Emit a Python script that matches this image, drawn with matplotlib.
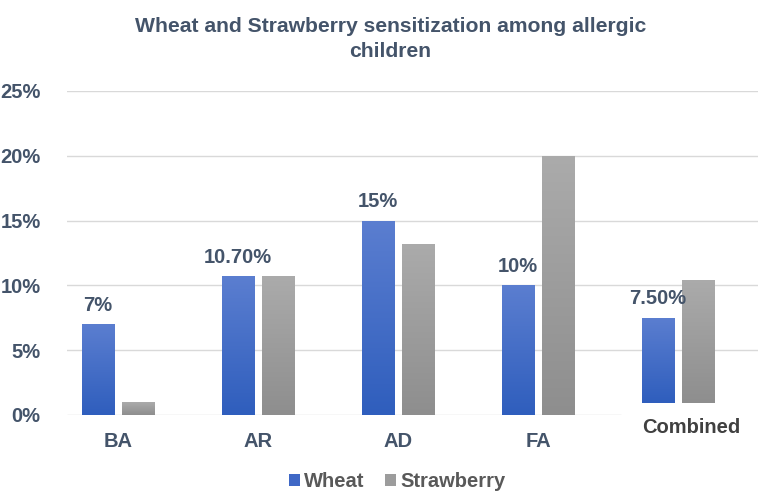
import numpy as np
import matplotlib
matplotlib.use('agg')
import matplotlib.pyplot as plt
from matplotlib.colors import LinearSegmentedColormap

plt.rcParams['font.family'] = ['Liberation Sans', 'DejaVu Sans']
plt.rcParams['font.weight'] = 'bold'

# data
categories = ['BA', 'AR', 'AD', 'FA', 'Combined']
wheat = [7, 10.7, 15, 10, 7.5]
strawberry = [1, 10.7, 13.2, 20, 10.4]
wheat_labels = ['7%', '10.70%', '15%', '10%', '7.50%']
# the "Combined" group floats a little above the baseline in the original
bar_base = [0, 0, 0, 0, 0.9]
yticks = [0, 5, 10, 15, 20, 25]

TEXT = '#44546A'
GRID = '#D9D9D9'
FS = 14.5

fig = plt.figure(figsize=(7.58, 4.92), dpi=100)
ax = fig.add_axes([67 / 758, 1 - 415 / 492, 1 - 67 / 758, (415 - 91) / 492])

x = np.arange(len(categories))
w = 0.23
off = 0.143

blue = LinearSegmentedColormap.from_list('b', ['#2F5EBD', '#5B7ED0'])
grey = LinearSegmentedColormap.from_list('g', ['#8E8E8E', '#ABABAB'])
grad = np.linspace(0, 1, 256).reshape(-1, 1)


def gradient_bars(xs, heights, bases, cmap, color):
    bars = ax.bar(xs, heights, w, bottom=bases, color=color, zorder=2)
    for b in bars:
        x0, y0 = b.get_x(), b.get_y()
        im = ax.imshow(grad, cmap=cmap, origin='lower', aspect='auto',
                       extent=[x0, x0 + b.get_width(), y0, y0 + b.get_height()],
                       zorder=3)
        im.set_clip_path(b)
    return bars


wb = gradient_bars(x - off, [h - b for h, b in zip(wheat, bar_base)], bar_base, blue, '#3F68C6')
sb = gradient_bars(x + off, [h - b for h, b in zip(strawberry, bar_base)], bar_base, grey, '#9C9C9C')

for xi, h, lab in zip(x - off, wheat, wheat_labels):
    ax.text(xi, h + 0.75, lab, ha='center', va='bottom', fontsize=FS,
            color=TEXT, fontweight='bold')

ax.set_xlim(-0.364, 4.57)
ax.set_ylim(0, 25)
for t in yticks[1:]:
    ax.axhline(t, color=GRID, lw=1, zorder=1)
ax.hlines(0, -0.364, 3.59, color=GRID, lw=1, zorder=1)

ax.set_yticks(yticks)
ax.set_yticklabels([f'{t}%' for t in yticks], fontsize=FS, color=TEXT, fontweight='bold')
ax.set_xticks(x[:4])
ax.set_xticklabels(categories[:4], fontsize=FS, color=TEXT, fontweight='bold')
ax.text(x[4] + 0.09, -0.25, categories[4], ha='center', va='top', fontsize=FS,
        color='#404040', fontweight='bold')
ax.tick_params(axis='x', length=0, pad=12)
ax.tick_params(axis='y', length=0, pad=19)
for s in ax.spines.values():
    s.set_visible(False)

fig.text(0.515, 1 - 39 / 492, 'Wheat and Strawberry sensitization among allergic\nchildren',
         ha='center', va='center', fontsize=15.2, color=TEXT, fontweight='bold',
         linespacing=1.4)

ax.legend([wb[0], sb[0]], ['Wheat', 'Strawberry'], loc='center',
          bbox_to_anchor=(0.478, -0.205), ncol=2, frameon=False, fontsize=FS,
          handlelength=0.55, handleheight=0.55, handletextpad=0.2, columnspacing=1.0,
          labelcolor='#595959')

fig.savefig('out.png', dpi=100)
